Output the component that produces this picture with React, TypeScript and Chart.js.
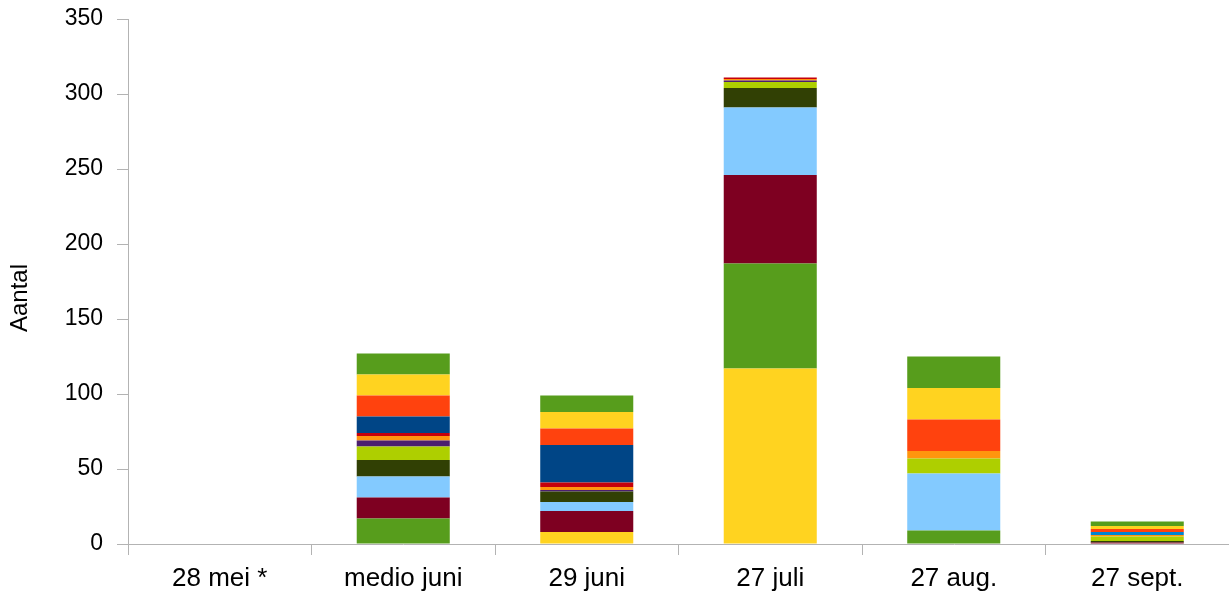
import React, { useEffect, useRef } from "react";
import { Chart, registerables } from "chart.js";

Chart.register(...registerables);

// Categories (x axis)
const categories = ["28 mei *", "medio juni", "29 juni", "27 juli", "27 aug.", "27 sept."];

// Y tick range
const yMin = 0;
const yMax = 350;
const yStep = 50;
const yTitle = "Aantal";

// Series values (stacked bottom to top)
const series01 = [0, 0, 0, 0, 0, 0];
const series02 = [0, 0, 0, 0, 0, 0];
const series03 = [0, 0, 8, 117, 0, 0];
const series04 = [0, 17, 0, 70, 9, 0];
const series05 = [0, 14, 14, 59, 0, 1];
const series06 = [0, 14, 6, 45, 38, 0];
const series07 = [0, 11, 7, 13, 0, 1];
const series08 = [0, 9, 0, 4, 10, 3];
const series09 = [0, 4, 1, 1, 0, 0];
const series10 = [0, 3, 2, 1, 5, 1];
const series11 = [0, 2, 3, 1, 0, 0];
const series12 = [0, 0, 0, 0, 0, 2];
const series13 = [0, 11, 25, 0, 0, 0];
const series14 = [0, 14, 11, 0, 21, 2];
const series15 = [0, 14, 11, 0, 21, 2];
const series16 = [0, 14, 11, 0, 21, 3];

const seriesList = [
  series01, series02, series03, series04, series05, series06, series07, series08,
  series09, series10, series11, series12, series13, series14, series15, series16,
];

const palette = [
  "#004586", "#ff420e", "#ffd320", "#579d1c", "#7e0021", "#83caff",
  "#314004", "#aecf00", "#4b1f6f", "#ff950e", "#c5000b", "#0084d1",
];

const FONT = "'Liberation Sans', Arial, sans-serif";
const AXIS_COLOR = "#b3b3b3";

const yTitlePlugin = {
  id: "yTitleText",
  afterDraw(chart: any) {
    const ctx = chart.ctx;
    ctx.save();
    ctx.translate(20, 298);
    ctx.rotate(-Math.PI / 2);
    ctx.font = "24px " + FONT;
    ctx.fillStyle = "#000";
    ctx.textAlign = "center";
    ctx.textBaseline = "middle";
    ctx.fillText(yTitle, 0, 0);
    ctx.restore();
  },
};

export default function App() {
  const canvasRef = useRef<HTMLCanvasElement | null>(null);

  useEffect(() => {
    if (!canvasRef.current) return;
    const datasets = seriesList.map((values, i) => ({
      label: "Reeks " + (i + 1),
      data: values,
      backgroundColor: palette[i % palette.length],
      borderWidth: 0,
      barPercentage: 0.507,
      categoryPercentage: 1,
    }));

    const chart = new Chart(canvasRef.current, {
      type: "bar",
      data: { labels: categories, datasets },
      plugins: [yTitlePlugin],
      options: {
        animation: false,
        responsive: true,
        maintainAspectRatio: false,
        layout: { padding: { top: 19, right: 0, left: 0, bottom: 0 } },
        plugins: {
          legend: { display: false },
          tooltip: { enabled: false },
        },
        scales: {
          x: {
            stacked: true,
            offset: true,
            afterFit: (scale: any) => {
              scale.height = 51;
              scale.paddingLeft = 0;
              scale.paddingRight = 0;
            },
            grid: {
              offset: true,
              drawOnChartArea: false,
              drawTicks: true,
              tickLength: 11,
              color: AXIS_COLOR,
            },
            border: { display: true, color: AXIS_COLOR, width: 1 },
            ticks: {
              color: "#000",
              font: { family: FONT, size: 26 },
              padding: 8,
              maxRotation: 0,
              autoSkip: false,
            },
          },
          y: {
            stacked: true,
            min: yMin,
            max: yMax,
            afterFit: (scale: any) => {
              scale.width = 128;
              scale.paddingTop = 0;
              scale.paddingBottom = 0;
            },
            grid: {
              drawOnChartArea: false,
              drawTicks: true,
              tickLength: 11,
              color: AXIS_COLOR,
            },
            border: { display: true, color: AXIS_COLOR, width: 1 },
            ticks: {
              stepSize: yStep,
              color: "#000",
              font: { family: FONT, size: 23 },
              padding: 14,
            },
          },
        },
      },
    });
    return () => chart.destroy();
  }, []);

  return (
    <div style={{ position: "fixed", left: 0, top: 0, width: 1229, height: 595, background: "#fff" }}>
      <canvas ref={canvasRef} />
    </div>
  );
}
